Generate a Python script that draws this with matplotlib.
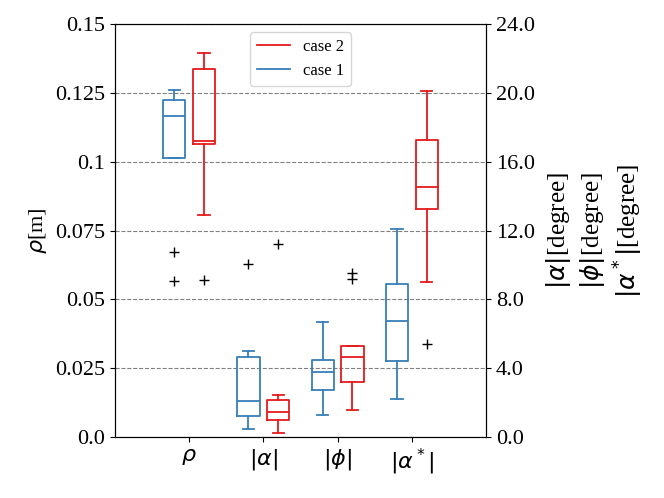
import matplotlib
matplotlib.use('Agg')
import matplotlib.pyplot as plt
from matplotlib.ticker import FixedLocator, FuncFormatter

plt.rcParams['font.family'] = ['Liberation Serif', 'DejaVu Serif']
plt.rcParams['mathtext.fontset'] = 'dejavusans'
plt.rcParams['font.size'] = 16

# category labels
categories = [r'$\rho$', r'$|\alpha|$', r'$|\phi|$', r'$|\alpha^*|$']

# box statistics: (whislo, q1, med, q3, whishi)
# rho in [m]
rho_case1 = (0.1013, 0.1013, 0.1165, 0.1223, 0.1259)
rho_case2 = (0.0808, 0.1063, 0.1075, 0.1337, 0.1393)
rho_fliers1 = [0.0672, 0.0566]
rho_fliers2 = [0.0572]

# angles in [degree]: |alpha|, |phi|, |alpha*|
ang_case1 = [(0.46, 1.25, 2.09, 4.68, 4.99),
             (1.30, 2.73, 3.77, 4.47, 6.72),
             (2.22, 4.40, 6.74, 8.92, 12.08)]
ang_case2 = [(0.27, 0.99, 1.49, 2.17, 2.48),
             (1.61, 3.21, 4.68, 5.28, 5.28),
             (9.04, 13.26, 14.54, 17.27, 20.13)]
ang_fliers1 = [[10.08], [], []]
ang_fliers2 = [[11.2], [9.55, 9.2], [5.44]]

blue = '#377eb8'
red = '#e41a1c'


def make_stats(vals, fliers):
    lo, q1, med, q3, hi = vals
    return dict(whislo=lo, q1=q1, med=med, q3=q3, whishi=hi, fliers=fliers)


def style(color):
    return dict(boxprops=dict(color=color, linewidth=1.3),
                whiskerprops=dict(color=color, linewidth=1.3),
                capprops=dict(color=color, linewidth=1.3),
                medianprops=dict(color=color, linewidth=1.3),
                flierprops=dict(marker='+', markeredgecolor='black', markersize=7))


fig = plt.figure(figsize=(6.64, 4.98), dpi=100)
ax = fig.add_axes([0.173, 0.122, 0.559, 0.830])
ax2 = ax.twinx()

# rho on left axis
b1 = ax.bxp([make_stats(rho_case1, rho_fliers1)], positions=[0.8], widths=0.3,
            manage_ticks=False, **style(blue))
b2 = ax.bxp([make_stats(rho_case2, rho_fliers2)], positions=[1.2], widths=0.3,
            manage_ticks=False, **style(red))

# angles on right axis
ax2.bxp([make_stats(v, f) for v, f in zip(ang_case1, ang_fliers1)],
        positions=[1.8, 2.8, 3.8], widths=0.3, manage_ticks=False, **style(blue))
ax2.bxp([make_stats(v, f) for v, f in zip(ang_case2, ang_fliers2)],
        positions=[2.2, 3.2, 4.2], widths=0.3, manage_ticks=False, **style(red))

ax.set_xlim(0, 5)
ax.set_ylim(0, 0.15)
ax2.set_ylim(0, 24)
ax.set_xticks([1, 2, 3, 4])
ax.set_xticklabels(categories)
ax.yaxis.set_major_locator(FixedLocator([0, 0.025, 0.05, 0.075, 0.1, 0.125, 0.15]))
ax.yaxis.set_major_formatter(FuncFormatter(lambda v, p: str(round(v, 3))))
ax2.yaxis.set_major_locator(FixedLocator([0, 4, 8, 12, 16, 20, 24]))
ax2.yaxis.set_major_formatter(FuncFormatter(lambda v, p: '%.1f' % v))
ax.yaxis.grid(True, linestyle='--', color='grey')

ax.set_ylabel(r'$\rho$[m]')
ax2.set_ylabel('$|\\alpha|$[degree]\n$|\\phi|$[degree]\n$|\\alpha^*|$[degree]',
               fontsize=18, labelpad=7)

ax2.legend([b2['boxes'][0], b1['boxes'][0]], ['case 2', 'case 1'],
           loc='upper center', fontsize=12)

fig.savefig('out.png')
